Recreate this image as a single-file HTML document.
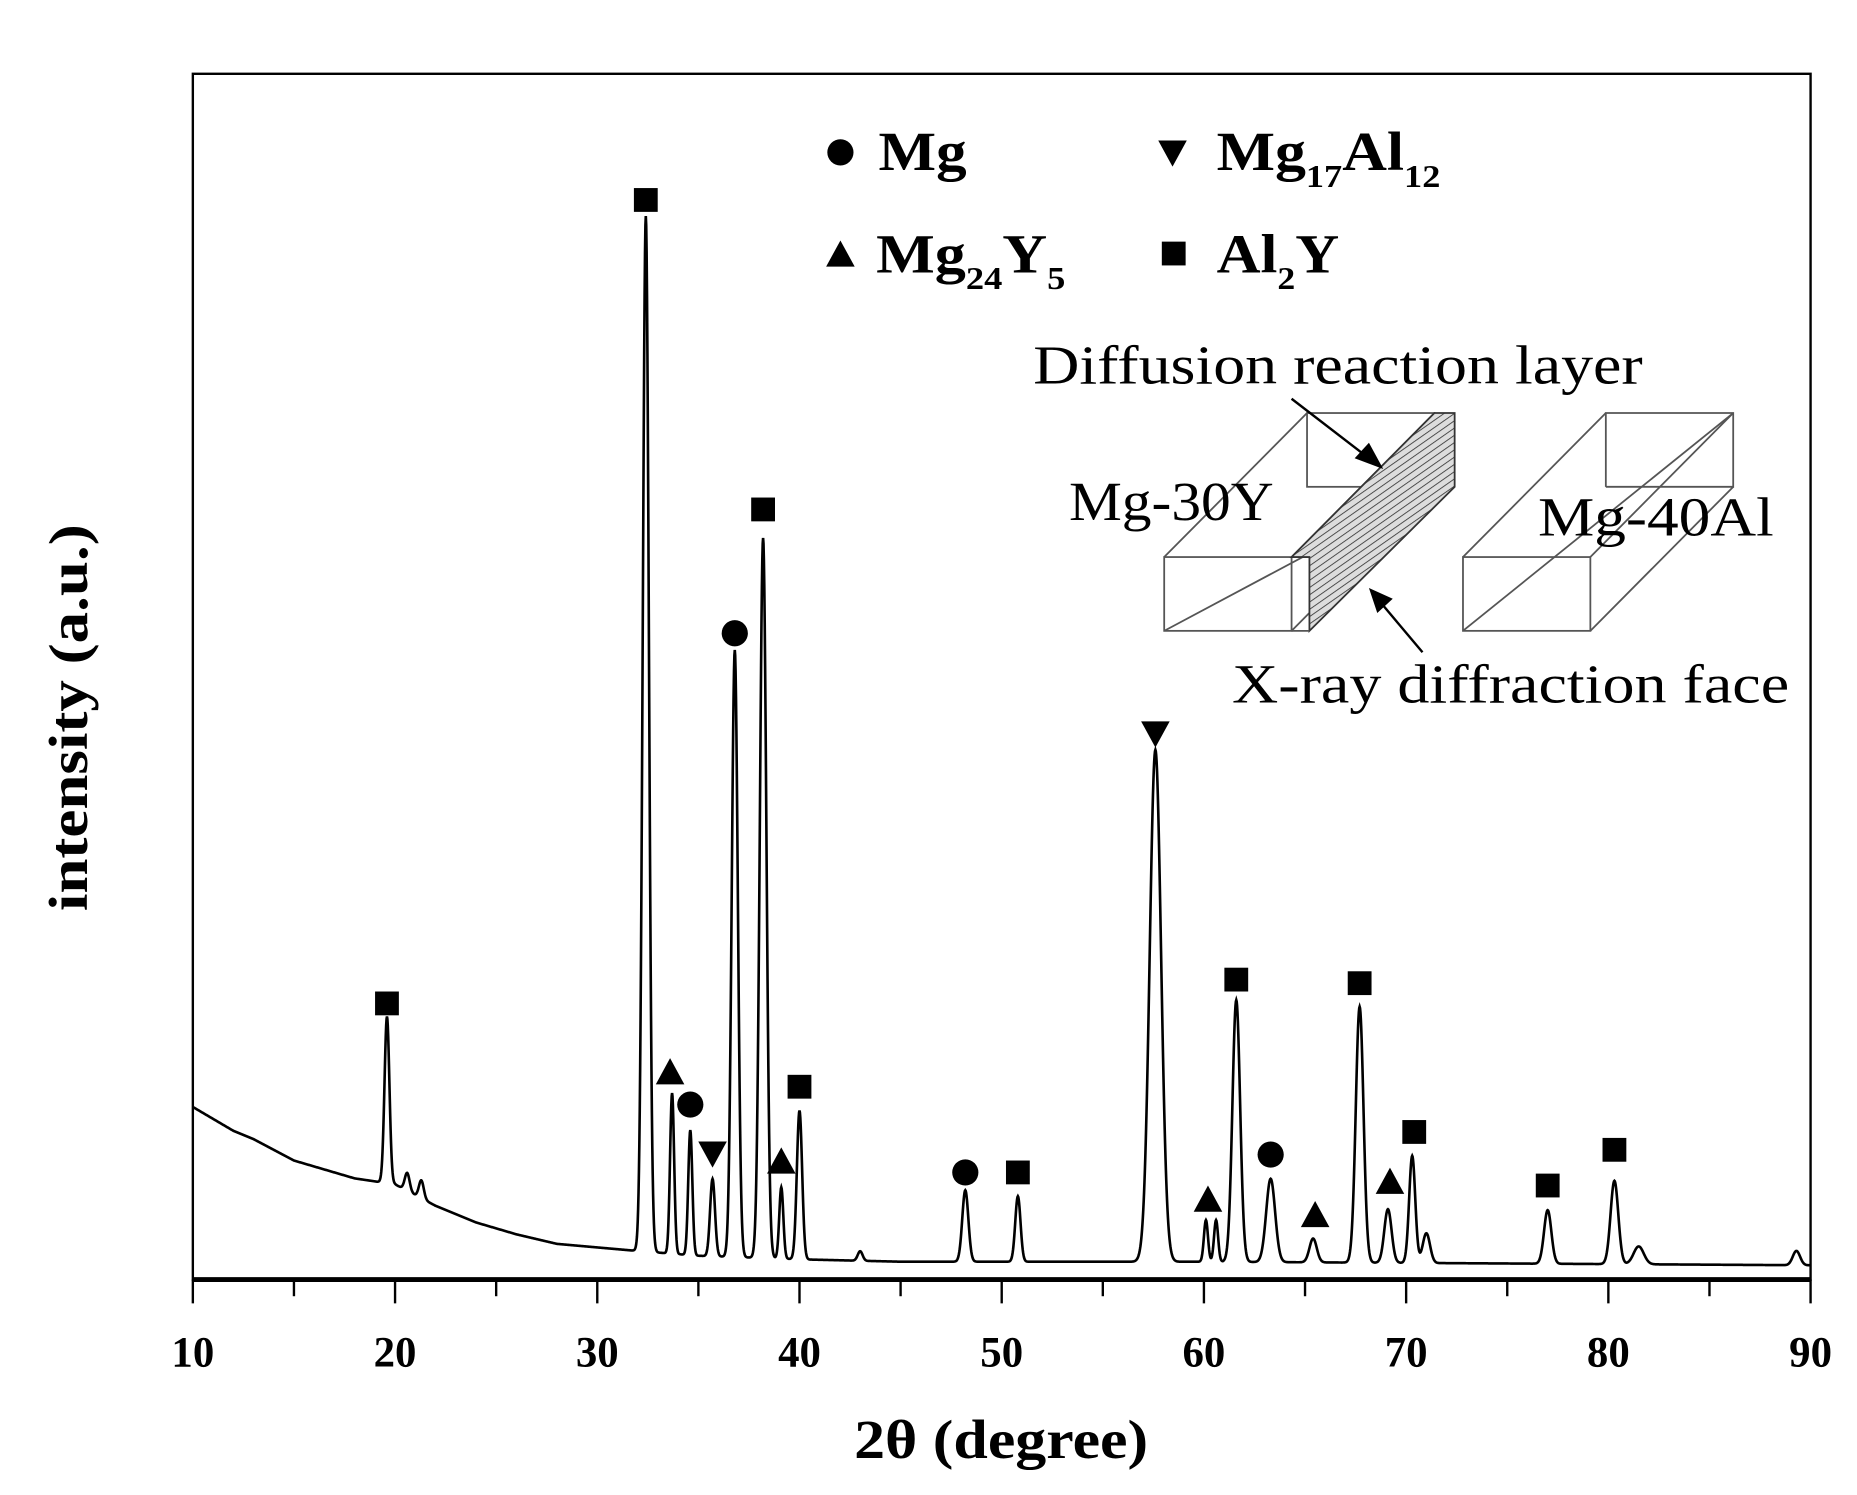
<!DOCTYPE html>
<html><head><meta charset="utf-8"><style>
html,body{margin:0;padding:0;background:#fff}
svg{display:block}
text{font-family:"Liberation Serif",serif}
</style></head><body>
<svg id="chart" width="1857" height="1495" viewBox="0 0 1560 1256" preserveAspectRatio="none" xmlns="http://www.w3.org/2000/svg">
<defs>
<pattern id="hatch" patternUnits="userSpaceOnUse" width="5" height="5" patternTransform="rotate(-35)">
<rect width="5" height="5" fill="#ddd"/><line x1="0" y1="0" x2="5" y2="0" stroke="#333" stroke-width="1.4"/>
</pattern>
</defs>
<g id="plot"></g>
<g font-weight="bold" font-size="46">
  <circle cx="706" cy="128" r="11" fill="#000"/>
  <text x="738" y="143" textLength="74" lengthAdjust="spacingAndGlyphs">Mg</text>
  <polygon points="973,118 997,118 985,140" fill="#000"/>
  <text x="1022" y="143" textLength="188" lengthAdjust="spacingAndGlyphs">Mg<tspan font-size="27" dy="14">17</tspan><tspan dy="-14">Al</tspan><tspan font-size="27" dy="14">12</tspan></text>
  <polygon points="706,202 694,224 718,224" fill="#000"/>
  <text x="736" y="229" textLength="159" lengthAdjust="spacingAndGlyphs">Mg<tspan font-size="27" dy="14">24</tspan><tspan dy="-14">Y</tspan><tspan font-size="27" dy="14">5</tspan></text>
  <rect x="976" y="203" width="20" height="20" fill="#000"/>
  <text x="1022" y="229" textLength="103" lengthAdjust="spacingAndGlyphs">Al<tspan font-size="27" dy="14">2</tspan><tspan dy="-14">Y</tspan></text>
</g>
<g fill="none" stroke="#555" stroke-width="1.5">
  <text x="868" y="322" font-size="46" fill="#000" stroke="none" textLength="512" lengthAdjust="spacingAndGlyphs">Diffusion reaction layer</text>
  <rect x="978" y="468" width="107" height="62"/>
  <rect x="1098" y="347" width="107" height="62"/>
  <line x1="978" y1="468" x2="1098" y2="347"/><line x1="1085" y1="468" x2="1205" y2="347"/>
  <line x1="978" y1="530" x2="1205" y2="409"/><line x1="1085" y1="530" x2="1205" y2="409"/>
  <polygon points="1085,468 1100,468 1100,530 1222,409 1222,347 1205,347 1085,468" fill="url(#hatch)" stroke="#333"/>
  <line x1="1085" y1="530" x2="1100" y2="530"/>
  <rect x="1229" y="468" width="107" height="62"/>
  <line x1="1229" y1="468" x2="1349" y2="347"/><line x1="1336" y1="468" x2="1456" y2="347"/>
  <line x1="1336" y1="530" x2="1456" y2="409"/><line x1="1229" y1="530" x2="1456" y2="347"/>
  <polyline points="1349,409 1349,347 1456,347 1456,409 1349,409"/>
  <text x="898" y="437" font-size="46" fill="#000" stroke="none" textLength="172" lengthAdjust="spacingAndGlyphs">Mg-30Y</text>
  <text x="1292" y="450" font-size="46" fill="#000" stroke="none" textLength="198" lengthAdjust="spacingAndGlyphs">Mg-40Al</text>
  <text x="1035" y="590" font-size="46" fill="#000" stroke="none" textLength="468" lengthAdjust="spacingAndGlyphs">X-ray diffraction face</text>
  <line x1="1085" y1="335" x2="1150" y2="385" stroke="#000" stroke-width="2"/>
  <polygon points="1162,394 1138,385 1150,372" fill="#000" stroke="none"/>
  <line x1="1195" y1="548" x2="1158" y2="504" stroke="#000" stroke-width="2"/>
  <polygon points="1150,494 1170,503 1157,515" fill="#000" stroke="none"/>
</g>
<text x="0" y="0" font-size="46" font-weight="bold" text-anchor="middle" textLength="325" lengthAdjust="spacingAndGlyphs" transform="translate(73,603) rotate(-90)">intensity (a.u.)</text>
<text x="841" y="1225" font-size="46" font-weight="bold" text-anchor="middle" textLength="247" lengthAdjust="spacingAndGlyphs">2θ (degree)</text>
</svg>
<script>
const bgX=[10,11,12,13,15,18,20,22,24,26,28,30,32,35,40,45,50,55,60,70,80,90];
const bgI=[145,135,125,118,100,85,80,62,48,38,30,27,24,20,17,15,15,15,15,14,13,12];
const peakPos=[19.6,20.6,21.3,32.4,33.7,34.6,35.7,36.8,38.2,39.1,40.0,43.0,48.2,50.8,57.6,60.1,60.6,61.6,63.3,65.4,67.7,69.1,70.3,71.0,77.0,80.3,81.5,89.3];
const peakH=[140,15,15,870,135,105,65,510,605,60,125,8,60,55,430,35,35,220,70,20,215,45,90,25,45,70,15,12];
const peakW=[0.12,0.12,0.12,0.15,0.1,0.1,0.12,0.15,0.16,0.1,0.13,0.12,0.15,0.13,0.28,0.1,0.1,0.19,0.22,0.18,0.19,0.18,0.15,0.18,0.18,0.19,0.25,0.18];
const markerX=[19.6,32.4,33.6,34.6,35.7,36.8,38.2,39.1,40.0,48.2,50.8,57.6,60.2,61.6,63.3,65.5,67.7,69.2,70.4,77.0,80.3];
const markerType=["s","s","u","c","d","c","s","u","s","c","s","d","u","s","c","u","s","u","s","s","s"];
const markerI=[232,907,175,147,105,543,647,100,162,90,90,458,68,252,105,55,249,83,124,79,109];
const xTicks=[10,20,30,40,50,60,70,80,90];

const L=162,R=1521,T=62,B=1075;
const xs=d=>L+(d-10)*(R-L)/80;
const ys=i=>B-i;
const NS="http://www.w3.org/2000/svg";
const plot=document.getElementById('plot');
function mk(tag,at){const e=document.createElementNS(NS,tag);for(const k in at)e.setAttribute(k,at[k]);plot.appendChild(e);return e;}
function bg(x){for(let i=0;i<bgX.length-1;i++){if(x<=bgX[i+1]){const t=(x-bgX[i])/(bgX[i+1]-bgX[i]);return bgI[i]+t*(bgI[i+1]-bgI[i]);}}return bgI[bgI.length-1];}
let d="";
for(let x=10;x<=90.0001;x+=0.02){let v=bg(x);for(let k=0;k<peakPos.length;k++){const z=(x-peakPos[k])/peakW[k];v+=peakH[k]*Math.exp(-0.5*z*z);}d+=(d?"L":"M")+xs(x).toFixed(2)+","+ys(v).toFixed(2);}
const frame=mk('rect',{x:L,y:T,width:R-L,height:B-T,fill:'none',stroke:'#000','stroke-width':2});


const line=mk('path',{d:d,fill:'none',stroke:'#000','stroke-width':2.2});


const ax=mk('line',{x1:L,y1:B,x2:R,y2:B,stroke:'#000','stroke-width':4});


for(let t=10;t<=90;t+=5){const maj=t%10===0;const tk=mk('line',{x1:xs(t),y1:B,x2:xs(t),y2:B+(maj?20:14),stroke:'#000','stroke-width':2});

}
xTicks.forEach(t=>{const tx=mk('text',{x:xs(t),y:1148,'font-size':36,'font-weight':'bold','text-anchor':'middle'});tx.textContent=t;

});
markerX.forEach((m,i)=>{const cx=xs(m),cy=ys(markerI[i]),r=11;let e;const ty=markerType[i];
if(ty==='s')e=mk('rect',{x:cx-10,y:cy-10,width:20,height:20,fill:'#000'});
else if(ty==='c')e=mk('circle',{cx:cx,cy:cy,r:r,fill:'#000'});
else if(ty==='u')e=mk('polygon',{points:`${cx},${cy-r} ${cx-12},${cy+r} ${cx+12},${cy+r}`,fill:'#000'});
else e=mk('polygon',{points:`${cx-12},${cy-r} ${cx+12},${cy-r} ${cx},${cy+r}`,fill:'#000'});

});
</script>
</body></html>
